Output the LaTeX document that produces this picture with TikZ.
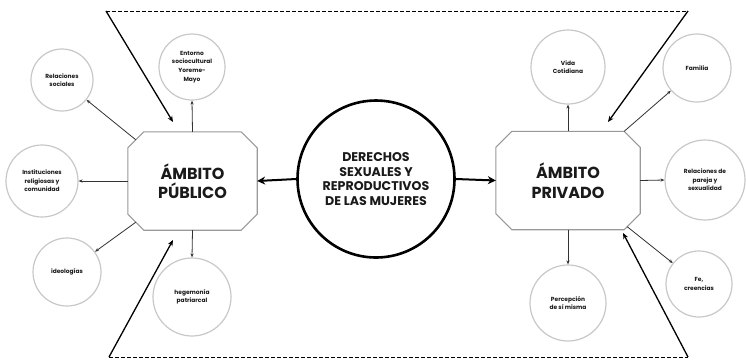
\documentclass[tikz,border=0pt]{standalone}
\usepackage{fontspec}
\setmainfont{Poppins}
\usetikzlibrary{arrows.meta,calc}
\definecolor{txt}{HTML}{1A1A1A}
\definecolor{ringgray}{HTML}{C8C8C8}
\definecolor{octgray}{HTML}{999999}
\definecolor{lnk}{HTML}{333333}
\tikzset{
  small/.style={circle,draw=ringgray,line width=1.2pt,fill=white,inner sep=0pt,align=center,
    font=\fontsize{5.9}{8.6}\selectfont\bfseries,text=txt},
  ambito/.style={rectangle,inner sep=0pt,minimum height=98pt,align=center,
    font=\fontsize{16}{19.5}\selectfont\bfseries,text=txt},
  octline/.style={draw=octgray,line width=1.1pt,fill=white},
  central/.style={circle,draw=black,line width=2.6pt,minimum size=157pt,inner sep=0pt,align=center,
    font=\fontsize{12.6}{14.4}\selectfont\bfseries,text=txt},
  link/.style={draw=lnk,line width=0.8pt,-{Stealth[length=4pt,width=3.2pt]}},
  bigarrow/.style={draw=black,line width=2pt,-{Stealth[length=8pt,width=8pt]}},
  diag/.style={draw=black,line width=1.3pt,-{Stealth[length=6pt,width=5pt]}},
  dashline/.style={draw=black,line width=0.8pt,dash pattern=on 4pt off 2pt},
}
\begin{document}
\begin{tikzpicture}[x=1pt,y=-1pt]
\useasboundingbox (0,0) rectangle (746,360);
\fill[white] (0,0) rectangle (746,360);

% corner coordinates of the dashed frame
\coordinate (tl) at (106,11);
\coordinate (tr) at (688,11);
\coordinate (bl) at (109,357);
\coordinate (br) at (688,357);

\draw[dashline] (tl) -- (tr);
\draw[dashline] (bl) -- (br);

% main boxes (invisible rectangles, octagons drawn below)
\node[ambito,minimum width=129pt] (pub) at (192.5,181) {};
\node[ambito,minimum width=144pt] (priv) at (568,180.5) {};
\foreach \n in {pub,priv}{
  \draw[octline] ([xshift=16pt]\n.north west) -- ([xshift=-16pt]\n.north east)
    -- ([yshift=-16pt]\n.north east) -- ([yshift=16pt]\n.south east)
    -- ([xshift=-16pt]\n.south east) -- ([xshift=16pt]\n.south west)
    -- ([yshift=16pt]\n.south west) -- ([yshift=-16pt]\n.north west) -- cycle;
}
\node[ambito] at (pub) {ÁMBITO\\PÚBLICO};
\node[ambito] at (priv) {ÁMBITO\\PRIVADO};

\node[central] (der) at (376,179) {DERECHOS\\SEXUALES Y\\REPRODUCTIVOS\\DE LAS MUJERES};

% satellite circles
\node[small,minimum size=62pt] (relsoc) at (62,80) {Relaciones\\sociales};
\node[small,minimum size=66pt] (ent) at (192,67) {Entorno\\sociocultural\\Yoreme-\\Mayo};
\node[small,minimum size=72pt] (inst) at (42,181) {Instituciones\\religiosas y\\comunidad};
\node[small,minimum size=68pt] (ideo) at (67,272) {ideologías};
\node[small,minimum size=78pt] (heg) at (192,297) {hegemonía\\patriarcal};
\node[small,minimum size=74pt] (vida) at (568,67) {Vida\\Cotidiana};
\node[small,minimum size=68pt] (fam) at (697,68) {Familia};
\node[small,minimum size=80pt] (pareja) at (705,180) {Relaciones de\\pareja y\\sexualidad};
\node[small,minimum size=66pt] (fe) at (699,284) {Fe,\\creencias};
\node[small,minimum size=76pt] (perc) at (568,303) {Percepción\\de sí misma};

% connectors from the boxes
\coordinate (pubnw) at ([shift={(8pt,-8pt)}]pub.north west);
\coordinate (pubsw) at ([shift={(8pt,8pt)}]pub.south west);
\coordinate (privne) at ([xshift=-16pt]priv.north east);
\coordinate (privse) at ([shift={(-13pt,3pt)}]priv.south east);

\draw[link] (pub.north) -- (ent.south);
\draw[link] (pubnw) -- (relsoc);
\draw[link] (pub.west) -- (inst.east);
\draw[link] (pubsw) -- (ideo);
\draw[link] (pub.south) -- (heg.north);

\draw[link] (priv.north) -- (vida.south);
\draw[link] (privne) -- (fam);
\draw[link] (priv.east) -- (pareja.west);
\draw[link] (privse) -- (fe);
\draw[link] (priv.south) -- (perc.north);

% central arrows
\draw[bigarrow] (der.west) -- (pub.east);
\draw[bigarrow] (der.east) -- (priv.west);

% diagonal arrows from frame corners
\coordinate (pubtop) at (173,122);
\coordinate (privtop) at (608,122);
\coordinate (pubbot) at (173,240);
\coordinate (privbot) at (623,233);
\draw[diag] (tl) -- (pubtop);
\draw[diag] (tr) -- (privtop);
\draw[diag] (bl) -- (pubbot);
\draw[diag] (br) -- (privbot);
\end{tikzpicture}
\end{document}
